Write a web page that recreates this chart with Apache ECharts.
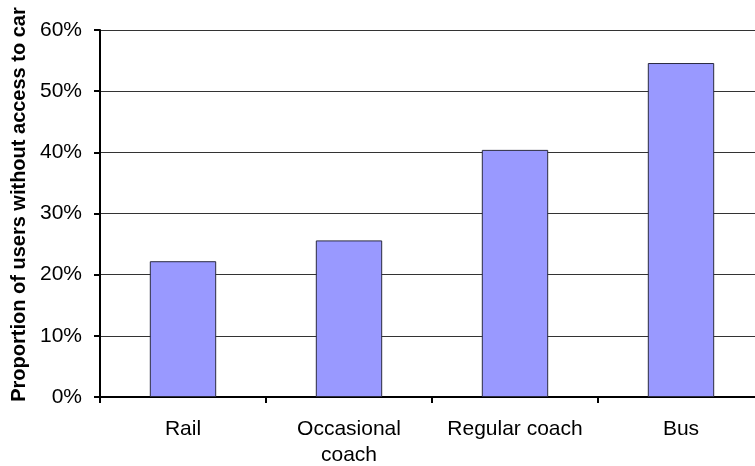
<!DOCTYPE html>
<html>
<head>
<meta charset="utf-8">
<script src="https://cdn.jsdelivr.net/npm/echarts@6/dist/echarts.min.js"></script>
<style>
  html, body { margin: 0; padding: 0; background: #fff; }
  #chart { width: 755px; height: 466px; }
</style>
</head>
<body>
<div id="chart"></div>
<script>
// Share of users of each mode who have no access to a car (percent)
const modes = ['Rail', 'Occasional\ncoach', 'Regular coach', 'Bus'];
const noCarShare = [22.2, 25.6, 40.4, 54.6];
const yTicks = { min: 0, max: 60, interval: 10 };

const chart = echarts.init(document.getElementById('chart'), null, { renderer: 'canvas' });
const font = '"Liberation Sans", Arial, sans-serif';

chart.setOption({
  animation: false,
  backgroundColor: '#ffffff',
  grid: { left: 100, top: 30, width: 664, bottom: 69, containLabel: false, outerBoundsMode: 'none' },
  xAxis: {
    type: 'category',
    data: modes,
    axisLine: { lineStyle: { color: '#000', width: 2 } },
    axisTick: { show: true, length: 6, lineStyle: { color: '#000', width: 2 } },
    axisLabel: { color: '#000', fontFamily: font, fontSize: 21, margin: 19, lineHeight: 26, interval: 0 },
    splitLine: { show: false }
  },
  yAxis: {
    type: 'value',
    min: yTicks.min, max: yTicks.max, interval: yTicks.interval,
    name: 'Proportion of users without access to car',
    nameLocation: 'middle',
    nameGap: 71,
    nameTextStyle: { color: '#000', fontFamily: font, fontSize: 20, fontWeight: 'bold', padding: [0, 0, 0, 18] },
    axisLine: { show: true, lineStyle: { color: '#000', width: 2 } },
    axisTick: { show: true, length: 6, lineStyle: { color: '#000', width: 2 } },
    axisLabel: { color: '#000', fontFamily: font, fontSize: 21, margin: 18, formatter: '{value}%' },
    splitLine: { show: true, lineStyle: { color: '#333', width: 1 } }
  },
  series: [{
    type: 'bar',
    data: noCarShare,
    barWidth: '40%',
    itemStyle: { color: '#9999ff', borderColor: '#2a2a40', borderWidth: 1 }
  }]
});
</script>
</body>
</html>
